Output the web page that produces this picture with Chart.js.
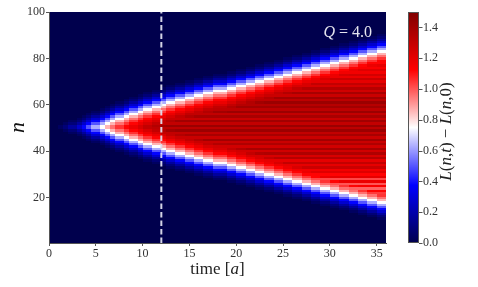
<!DOCTYPE html>
<html>
<head>
<meta charset="utf-8">
<script src="https://cdn.jsdelivr.net/npm/chart.js@4.4.0/dist/chart.umd.min.js"></script>
<style>
  html, body { margin: 0; padding: 0; background: #fff; }
  canvas { display: block; }
</style>
</head>
<body>
<canvas id="myChart" width="478" height="287"></canvas>
<script>
// columns are 0.5 time units wide, starting at t = 0
const colWidth = 0.5;
// half width (in rows) of the white front of the cone, per column
const halfWidth = [
  -8.5, -7.5, -6.5, -5.6, -4.8, -4.0, -3.2, -2.4, -1.6, -0.8,
  0.0, 0.8, 1.6, 2.4, 3.1, 3.8, 4.5, 5.1, 5.8, 6.4,
  7.2, 7.8, 8.4, 9.0, 9.6, 10.1, 10.6, 11.1, 11.6, 12.1,
  12.6, 13.1, 13.6, 14.1, 14.6, 15.1, 15.6, 16.0, 16.5, 17.0,
  17.5, 18.0, 18.5, 19.0, 19.5, 20.0, 20.5, 21.0, 21.5, 22.0,
  22.5, 23.0, 23.5, 24.0, 24.5, 25.0, 25.4, 25.9, 26.4, 26.9,
  27.4, 27.9, 28.4, 28.9, 29.4, 29.9, 30.4, 30.9, 31.4, 31.9,
  32.4, 32.9
];
const coneCentre = 50.5;
// interior level of each row n = 1..100 (horizontal stripes)
const rowLevel = [
  1.2, 1.2, 1.2, 1.2, 1.2, 1.2, 1.2, 1.2, 1.2, 1.2,
  1.1, 1.05, 1.1, 1.05, 1.08, 1.02, 1.06, 1.0, 1.08, 1.02,
  1.08, 1.04, 1.12, 0.98, 1.14, 1.0, 1.18, 1.02, 1.2, 1.12,
  1.22, 1.16, 1.28, 1.2, 1.3, 1.2, 1.34, 1.24, 1.36, 1.26,
  1.38, 1.26, 1.36, 1.28, 1.4, 1.28, 1.38, 1.3, 1.42, 1.32,
  1.42, 1.3, 1.4, 1.28, 1.38, 1.3, 1.42, 1.32, 1.4, 1.34,
  1.42, 1.32, 1.4, 1.28, 1.38, 1.26, 1.34, 1.24, 1.3, 1.2,
  1.28, 1.18, 1.25, 1.16, 1.22, 1.14, 1.2, 1.12, 1.16, 1.1,
  1.14, 1.1, 1.12, 1.08, 1.1, 1.1, 1.1, 1.1, 1.1, 1.1,
  1.1, 1.1, 1.1, 1.1, 1.1, 1.1, 1.1, 1.1, 1.1, 1.1
];
// value across the front, by distance (rows) from the white line, outward positive
const edgeDist = [-11, -10, -9, -8, -7, -6, -5, -4, -3, -2, -1, 0, 1, 2, 3, 4, 5, 6, 7, 8];
const edgeValue = [1.5, 1.45, 1.4, 1.35, 1.3, 1.24, 1.18, 1.12, 1.05, 0.96, 0.86, 0.75, 0.63, 0.5, 0.38, 0.27, 0.17, 0.09, 0.04, 0.0];

const xTicks = [0, 5, 10, 15, 20, 25, 30, 35];
const yTicks = [20, 40, 60, 80, 100];
const cbTicks = [0, 0.2, 0.4, 0.6, 0.8, 1.0, 1.2, 1.4];
const markerTime = 12;
const qLabel = [['Q', true], [' = 4.0', false]];
const qPos = { t: 34.5, n: 91 };

const serif = '"Liberation Serif", "DejaVu Serif", serif';
const cmapStops = [[0, 0, 0.3], [0, 0, 1], [1, 1, 1], [1, 0, 0], [0.5, 0, 0]];

function seismic(v) {
    let f = Math.max(0, Math.min(1, v / 1.5));
    const p = f * 4;
    const i = Math.min(3, Math.floor(p));
    const t = p - i;
    const a = cmapStops[i], b = cmapStops[i + 1];
    const c = a.map((ai, j) => Math.round(255 * (ai + (b[j] - ai) * t)));
    return 'rgb(' + c[0] + ',' + c[1] + ',' + c[2] + ')';
}

function cellValue(k, n) {
    const d = Math.round(Math.abs(n - coneCentre) - halfWidth[k]);
    let edge;
    if (d <= edgeDist[0]) edge = edgeValue[0];
    else if (d >= edgeDist[edgeDist.length - 1]) edge = 0;
    else edge = edgeValue[d - edgeDist[0]];
    return Math.min(rowLevel[n - 1], edge);
}

function drawPieces(ctx, pieces, x, y, size, align) {
    const fonts = pieces.map(p => (p[1] ? 'italic ' : '') + size + 'px ' + serif);
    let total = 0;
    const widths = pieces.map((p, i) => { ctx.font = fonts[i]; const w = ctx.measureText(p[0]).width; total += w; return w; });
    let cx = align === 'right' ? x - total : x - total / 2;
    ctx.textAlign = 'left';
    ctx.textBaseline = 'middle';
    pieces.forEach((p, i) => { ctx.font = fonts[i]; ctx.fillText(p[0], cx, y); cx += widths[i]; });
}

const heatmap = {
    id: 'heatmap',
    beforeDatasetsDraw(chart) {
        const { ctx, scales: { x, y } } = chart;
        ctx.save();
        halfWidth.forEach((h, k) => {
            const px0 = Math.round(x.getPixelForValue(k * colWidth));
            const px1 = Math.round(x.getPixelForValue((k + 1) * colWidth));
            for (let n = 1; n <= rowLevel.length; n++) {
                const py0 = Math.round(y.getPixelForValue(Math.min(n + 0.5, y.max)));
                const py1 = Math.round(y.getPixelForValue(Math.max(n - 0.5, y.min)));
                ctx.fillStyle = seismic(cellValue(k, n));
                ctx.fillRect(px0, py0, px1 - px0, py1 - py0);
            }
        });
        ctx.restore();
    },
    afterDatasetsDraw(chart) {
        const { ctx, scales: { x, y } } = chart;
        ctx.save();
        ctx.fillStyle = '#e4e4ee';
        drawPieces(ctx, qLabel, x.getPixelForValue(qPos.t), y.getPixelForValue(qPos.n), 16, 'right');
        ctx.restore();
    },
    afterDraw(chart) {
        const { ctx, scales: { x, cb } } = chart;
        ctx.save();
        // colorbar
        const left = cb.left + 22, right = cb.left + 33;
        for (let py = Math.round(cb.top); py < Math.round(cb.bottom); py++) {
            ctx.fillStyle = seismic(cb.getValueForPixel(py + 0.5));
            ctx.fillRect(left, py, right - left, 1);
        }
        ctx.strokeStyle = '#555';
        ctx.lineWidth = 1;
        ctx.strokeRect(left + 0.5, Math.round(cb.top) + 0.5, right - left - 1, Math.round(cb.bottom) - Math.round(cb.top) - 1);
        cbTicks.forEach(v => {
            const py = Math.round(cb.getPixelForValue(v)) + 0.5;
            ctx.beginPath();
            ctx.moveTo(right, py);
            ctx.lineTo(right + 3.5, py);
            ctx.stroke();
        });
        // colorbar label
        ctx.fillStyle = '#222';
        ctx.translate(cb.left + 61, (cb.top + cb.bottom) / 2 + 4);
        ctx.rotate(-Math.PI / 2);
        drawPieces(ctx, [['L', true], ['(', false], ['n', true], [',', false], ['t', true], [')', false], [' \u2212 ', false],
            ['L', true], ['(', false], ['n', true], [',', false], ['0', false], [')', false]], 0, 0, 17, 'center');
        ctx.restore();
        // x title
        ctx.save();
        ctx.fillStyle = '#222';
        drawPieces(ctx, [['time [', false], ['a', true], [']', false]], (x.left + x.right) / 2, 270, 17, 'center');
        ctx.restore();
    }
};

const tickFont = { family: serif, size: 12 };
const ctx = document.getElementById('myChart').getContext('2d');
const myChart = new Chart(ctx, {
    type: 'line',
    data: {
        datasets: [{
            label: 'marker',
            data: [{ x: markerTime, y: 0.5 }, { x: markerTime, y: 100 }],
            borderColor: 'rgba(222,222,238,0.95)',
            borderWidth: 2,
            borderDash: [5.5, 3],
            pointRadius: 0,
            xAxisID: 'x',
            yAxisID: 'y'
        }]
    },
    options: {
        responsive: false,
        animation: false,
        devicePixelRatio: 1,
        layout: { padding: { top: 12, left: 0, right: 0, bottom: 0 } },
        plugins: { legend: { display: false }, tooltip: { enabled: false } },
        scales: {
            x: {
                type: 'linear', min: 0, max: 36,
                afterBuildTicks: s => { s.ticks = xTicks.map(v => ({ value: v })); },
                afterFit: s => { s.height = 44; },
                grid: { drawOnChartArea: false, tickLength: 3, color: '#555' },
                border: { color: '#555', z: 1 },
                ticks: { font: tickFont, color: '#333', padding: 1, maxRotation: 0 }
            },
            y: {
                type: 'linear', min: 0.5, max: 100,
                afterBuildTicks: s => { s.ticks = yTicks.map(v => ({ value: v })); },
                afterFit: s => { s.width = 49; },
                grid: { drawOnChartArea: false, tickLength: 3, color: '#555' },
                border: { color: '#555', z: 1 },
                ticks: { font: tickFont, color: '#333', padding: 1 },
                title: { display: true, text: 'n', color: '#111', font: { family: serif, size: 22, style: 'italic' }, padding: { top: 5, bottom: 0 } }
            },
            cb: {
                type: 'linear', position: 'right', min: 0, max: 1.5,
                afterBuildTicks: s => { s.ticks = cbTicks.map(v => ({ value: v })); },
                afterFit: s => { s.width = 92; },
                grid: { drawOnChartArea: false, tickLength: 36, color: 'rgba(0,0,0,0)' },
                border: { display: false },
                ticks: { font: tickFont, color: '#333', padding: 1, callback: v => v.toFixed(1) }
            }
        }
    },
    plugins: [heatmap]
});
</script>
</body>
</html>
